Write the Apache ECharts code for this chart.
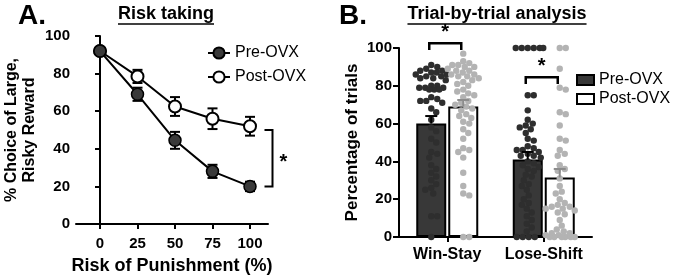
<!DOCTYPE html>
<html><head><meta charset="utf-8">
<script src="https://cdn.jsdelivr.net/npm/echarts@6/dist/echarts.min.js"></script>
<style>html,body{margin:0;padding:0;background:#fff}#c{width:675px;height:280px}</style>
</head><body><div id="c"></div>
<script>
// ---- Panel A data ----
const riskLevels = [0, 25, 50, 75, 100];
const riskTicks = [0, 25, 50, 75, 100];
const preOVX = [92, 69, 44.5, 28, 20];
const preOVXsem = [1.5, 3.5, 4.5, 3.5, 2.5];
const postOVX = [92, 78.5, 62.5, 56, 52];
const postOVXsem = [1.5, 3.5, 5, 5.5, 5];
// ---- Panel B data ----
const trialCats = ['Win-Stay', 'Lose-Shift'];
const preMeans = [60, 41];
const preSem = [4, 4];
const postMeans = [69, 31.5];
const postSem = [3.5, 4.5];
const winStayPre = [91,90,89,88,88,87,87,86,86,85,85,84,84,83,80,80,79,79,79,78,78,78,74,73,72,72,71,68,66,62,58,56,52,50,45,44,42,38,36,34,32,30,28,26,25,23,11,11,0];
const winStayPost = [97,93,92,91,91,90,90,89,88,88,87,86,86,85,85,84,83,82,81,80,78,77,76,75,74,72,71,70,69,68,67,65,64,63,61,60,57,55,52,47,46,45,42,34,27,23,22,0,0];
const loseShiftPre = [100,100,100,100,100,100,75,75,67,62,60,59,58,57,55,52,51,48,47,46,46,45,44,43,43,42,40,39,38,37,36,35,33,32,30,28,27,25,22,20,18,17,15,13,11,9,7,5,3,0,0,0,0];
const loseShiftPost = [100,100,89,79,78,66,65,59,52,51,46,44,43,38,36,35,31,27,24,23,20,18,17,16,16,15,15,14,13,12,9,6,4,3,2,2,1,1,0,0,0,0,0,0];

const FONT = "'Liberation Sans', Arial, sans-serif";
const gridA = {left: 76, top: 36, width: 192, height: 188};
const gridB = {left: 399, top: 48, width: 193, height: 189};
const barW = 30, barGapPx = 2;
const shift = (barW + barGapPx) / 2;
const dotR = 3.2;

// beeswarm horizontal offsets (pixels) computed from values
function swarm(values, pxPerUnit, d, maxW) {
  const order = values.map((v, i) => i).sort((a, b) => values[b] - values[a]);
  const placed = [];
  const off = new Array(values.length).fill(0);
  const cands = [0];
  for (let s = 0.5; s <= maxW; s += 0.5) { cands.push(s, -s); }
  for (const i of order) {
    const y = values[i] * pxPerUnit;
    let bestX = 0, bestScore = -1;
    for (const x of cands) {
      let minD = Infinity;
      for (const p of placed) {
        const dd = Math.hypot(p[0] - x, p[1] - y);
        if (dd < minD) minD = dd;
      }
      if (minD >= d) { bestX = x; bestScore = Infinity; break; }
      if (minD > bestScore) { bestScore = minD; bestX = x; }
    }
    off[i] = bestX;
    placed.push([bestX, y]);
  }
  return off;
}
const pxB = gridB.height / 100;
function dotsData(cat, vals) {
  const o = swarm(vals, pxB, 6, 15.5);
  return vals.map((v, i) => [cat, v, o[i]]);
}

function errA(params, api) {
  const x = api.value(0), y = api.value(1), e = api.value(2);
  const t = api.coord([x, y + e]), b = api.coord([x, y - e]);
  const hw = 5, st = {stroke: '#000', lineWidth: 2};
  return {type: 'group', children: [
    {type: 'line', shape: {x1: t[0], y1: t[1], x2: b[0], y2: b[1]}, style: st},
    {type: 'line', shape: {x1: t[0] - hw, y1: t[1], x2: t[0] + hw, y2: t[1]}, style: st},
    {type: 'line', shape: {x1: b[0] - hw, y1: b[1], x2: b[0] + hw, y2: b[1]}, style: st}
  ]};
}
function errB(dx, color) {
  return function (params, api) {
    const c = api.value(0), y = api.value(1), e = api.value(2);
    const t = api.coord([c, y + e]), b = api.coord([c, y]);
    const x = t[0] + dx, hw = 6, st = {stroke: color, lineWidth: 2};
    return {type: 'group', children: [
      {type: 'line', shape: {x1: x, y1: t[1], x2: x, y2: b[1]}, style: st},
      {type: 'line', shape: {x1: x - hw, y1: t[1], x2: x + hw, y2: t[1]}, style: st}
    ]};
  };
}
function dots(dx, color) {
  return function (params, api) {
    const p = api.coord([api.value(0), api.value(1)]);
    return {type: 'circle', shape: {cx: p[0] + dx + api.value(2), cy: p[1], r: dotR}, style: {fill: color}};
  };
}
function bracketB(params, api) {
  const c = api.value(0), top = api.value(1), leg = api.value(2);
  const p = api.coord([c, top]), q = api.coord([c, top - leg]);
  const x1 = p[0] - shift - 2, x2 = p[0] + shift - 2, st = {stroke: '#000', lineWidth: 2.5, fill: null};
  return {type: 'group', children: [
    {type: 'polyline', shape: {points: [[x1, q[1]], [x1, p[1]], [x2, p[1]], [x2, q[1]]]}, style: st},
    {type: 'text', x: (x1 + x2) / 2, y: p[1] - 1, style: {text: '*', font: 'bold 20px ' + FONT, align: 'center', verticalAlign: 'bottom', fill: '#000'}}
  ]};
}
function bracketA(params, api) {
  const x = api.value(0), y1 = api.value(1), y2 = api.value(2);
  const p = api.coord([x, y1]), q = api.coord([x, y2]);
  const st = {stroke: '#000', lineWidth: 2, fill: null};
  return {type: 'group', children: [
    {type: 'polyline', shape: {points: [[p[0] - 8, p[1]], [p[0], p[1]], [p[0], q[1]], [p[0] - 8, q[1]]]}, style: st},
    {type: 'text', x: p[0] + 11, y: (p[1] + q[1]) / 2 + 4, style: {text: '*', font: 'bold 20px ' + FONT, align: 'center', verticalAlign: 'middle', fill: '#000'}}
  ]};
}

const axisCommon = {
  axisLine: {show: true, lineStyle: {color: '#000', width: 2}},
  axisTick: {show: true, length: 5, lineStyle: {color: '#000', width: 2}},
  axisLabel: {color: '#000', fontWeight: 'bold', fontSize: 15, fontFamily: FONT},
  splitLine: {show: false},
  nameTextStyle: {color: '#000', fontWeight: 'bold', fontFamily: FONT}
};

// measure title widths for underline
const mctx = document.createElement('canvas').getContext('2d');
function tw(text, font) { mctx.font = font; return mctx.measureText(text).width; }
const tFont = 'bold 18px ' + FONT;
const t1 = 'Risk taking', t2 = 'Trial-by-trial analysis';
const t1x = 166, t2x = 497, tY = 14;
const w1 = tw(t1, tFont), w2 = tw(t2, tFont);

const chart = echarts.init(document.getElementById('c'), null, {renderer: 'canvas'});
chart.setOption({
  animation: false,
  backgroundColor: '#fff',
  textStyle: {fontFamily: FONT},
  graphic: [
    {type: 'text', x: 18, y: 2, style: {text: 'A.', font: 'bold 28px ' + FONT, fill: '#000'}},
    {type: 'text', x: 339, y: 2, style: {text: 'B.', font: 'bold 28px ' + FONT, fill: '#000'}},
    {type: 'text', x: t1x, y: tY, style: {text: t1, font: tFont, fill: '#000', align: 'center', verticalAlign: 'middle'}},
    {type: 'text', x: t2x, y: tY, style: {text: t2, font: tFont, fill: '#000', align: 'center', verticalAlign: 'middle'}},
    {type: 'line', shape: {x1: t1x - w1 / 2, y1: tY + 10, x2: t1x + w1 / 2, y2: tY + 10}, style: {stroke: '#000', lineWidth: 1.5}},
    {type: 'line', shape: {x1: t2x - w2 / 2, y1: tY + 10, x2: t2x + w2 / 2, y2: tY + 10}, style: {stroke: '#000', lineWidth: 1.5}}
  ],
  legend: [
    {data: ['Pre-OVX', 'Post-OVX'], orient: 'vertical', left: 202, top: 40, itemGap: 8,
     itemWidth: 22, itemHeight: 14, textStyle: {fontSize: 16, color: '#000', fontFamily: FONT}},
    {data: ['Pre-OVX (B)', 'Post-OVX (B)'], orient: 'vertical', left: 571, top: 67, itemGap: 3,
     icon: 'rect', itemWidth: 17, itemHeight: 10, formatter: n => n.replace(' (B)', ''),
     textStyle: {fontSize: 16, color: '#000', fontFamily: FONT}}
  ],
  grid: [
    Object.assign({containLabel: false}, gridA),
    Object.assign({containLabel: false}, gridB)
  ],
  xAxis: [
    Object.assign({}, axisCommon, {
      type: 'value', gridIndex: 0, min: -16, max: 112,
      axisTick: Object.assign({}, axisCommon.axisTick, {customValues: riskTicks}),
      axisLabel: Object.assign({}, axisCommon.axisLabel, {customValues: riskTicks, margin: 12}),
      name: 'Risk of Punishment (%)', nameLocation: 'middle', nameGap: 33,
      nameTextStyle: Object.assign({}, axisCommon.nameTextStyle, {fontSize: 18})
    }),
    Object.assign({}, axisCommon, {
      type: 'category', gridIndex: 1, data: trialCats,
      axisTick: Object.assign({}, axisCommon.axisTick, {alignWithLabel: true, interval: 0}),
      axisLabel: Object.assign({}, axisCommon.axisLabel, {fontSize: 16, margin: 10, interval: 0, hideOverlap: false})
    })
  ],
  yAxis: [
    Object.assign({}, axisCommon, {
      type: 'value', gridIndex: 0, min: 0, max: 100, interval: 20,
      axisLabel: Object.assign({}, axisCommon.axisLabel, {margin: 6}),
      name: '% Choice of Large,\nRisky Reward', nameLocation: 'middle', nameGap: 37,
      nameTextStyle: Object.assign({}, axisCommon.nameTextStyle, {fontSize: 16, lineHeight: 18})
    }),
    Object.assign({}, axisCommon, {
      type: 'value', gridIndex: 1, min: 0, max: 100, interval: 20,
      axisTick: Object.assign({}, axisCommon.axisTick, {length: 6}),
      axisLabel: Object.assign({}, axisCommon.axisLabel, {margin: 7}),
      name: 'Percentage of trials', nameLocation: 'middle', nameGap: 38,
      nameTextStyle: Object.assign({}, axisCommon.nameTextStyle, {fontSize: 17})
    })
  ],
  series: [
    {type: 'custom', xAxisIndex: 0, yAxisIndex: 0, renderItem: errA, z: 1,
     data: riskLevels.map((x, i) => [x, postOVX[i], postOVXsem[i]])},
    {type: 'custom', xAxisIndex: 0, yAxisIndex: 0, renderItem: errA, z: 1,
     data: riskLevels.map((x, i) => [x, preOVX[i], preOVXsem[i]])},
    {name: 'Post-OVX', type: 'line', xAxisIndex: 0, yAxisIndex: 0, z: 2,
     data: riskLevels.map((x, i) => [x, postOVX[i]]),
     symbol: 'circle', symbolSize: 12,
     lineStyle: {color: '#000', width: 2},
     itemStyle: {color: '#fff', borderColor: '#000', borderWidth: 2}},
    {name: 'Pre-OVX', type: 'line', xAxisIndex: 0, yAxisIndex: 0, z: 3,
     data: riskLevels.map((x, i) => [x, preOVX[i]]),
     symbol: 'circle', symbolSize: 12,
     lineStyle: {color: '#000', width: 2},
     itemStyle: {color: '#3a3a3a', borderColor: '#000', borderWidth: 1.5}},
    {type: 'custom', xAxisIndex: 0, yAxisIndex: 0, renderItem: bracketA, clip: false, z: 4,
     data: [[115, 50, 20]]},
    // Panel B
    {name: 'Pre-OVX (B)', type: 'bar', xAxisIndex: 1, yAxisIndex: 1, data: preMeans,
     barWidth: barW, barGap: (barGapPx / barW * 100) + '%',
     itemStyle: {color: '#383838', borderColor: '#000', borderWidth: 2}},
    {name: 'Post-OVX (B)', type: 'bar', xAxisIndex: 1, yAxisIndex: 1, data: postMeans,
     barWidth: barW,
     itemStyle: {color: '#fff', borderColor: '#000', borderWidth: 2}},
    {type: 'custom', xAxisIndex: 1, yAxisIndex: 1, renderItem: dots(-shift, '#2e2e2e'), z: 3, clip: false,
     data: dotsData(0, winStayPre).concat(dotsData(1, loseShiftPre))},
    {type: 'custom', xAxisIndex: 1, yAxisIndex: 1, renderItem: dots(shift, '#b3b3b3'), z: 3, clip: false,
     data: dotsData(0, winStayPost).concat(dotsData(1, loseShiftPost))},
    {type: 'custom', xAxisIndex: 1, yAxisIndex: 1, renderItem: errB(-shift, '#000'), z: 4,
     data: preMeans.map((m, i) => [i, m, preSem[i]])},
    {type: 'custom', xAxisIndex: 1, yAxisIndex: 1, renderItem: errB(shift, '#8c8c8c'), z: 4,
     data: postMeans.map((m, i) => [i, m, postSem[i]])},
    {type: 'custom', xAxisIndex: 1, yAxisIndex: 1, renderItem: bracketB, clip: false, z: 5,
     data: [[0, 102.5, 3.5], [1, 84.5, 3.5]]}
  ]
});
</script></body></html>
